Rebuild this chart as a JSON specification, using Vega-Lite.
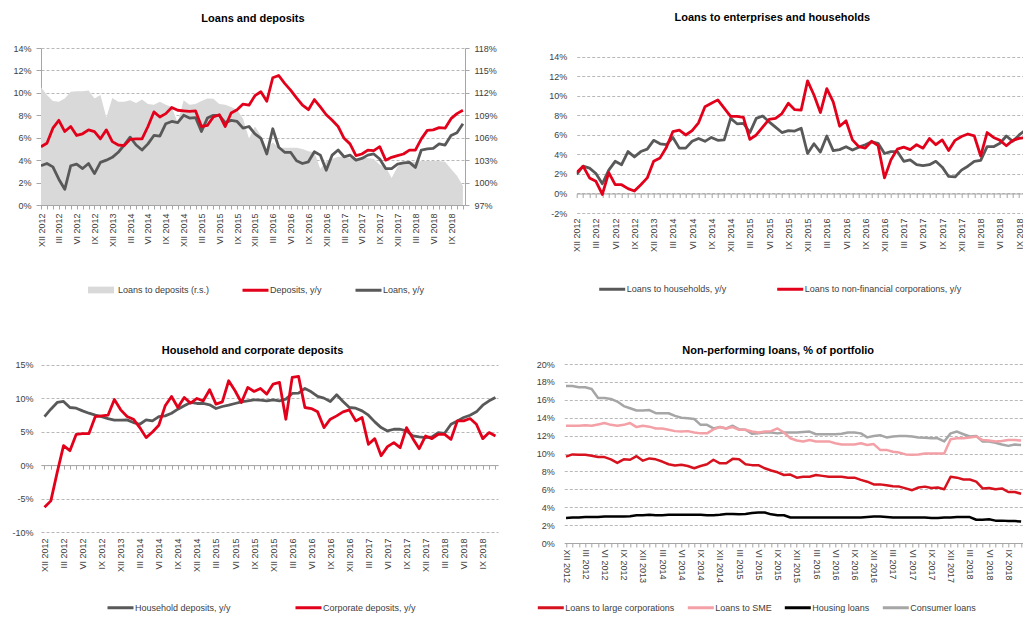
{
"$schema": "https://vega.github.io/schema/vega-lite/v6.json",
"padding": {"left": 11, "top": 12, "right": 0, "bottom": 0},
"params": [{"name": "lbl", "value": ["XII 2012","III 2012","VI 2012","IX 2012","XII 2013","III 2014","VI 2014","IX 2014","XII 2014","III 2015","VI 2015","IX 2015","XII 2015","III 2016","VI 2016","IX 2016","XII 2016","III 2017","VI 2017","IX 2017","XII 2017","III 2018","VI 2018","IX 2018"]}],
"config": {
  "font": "Liberation Sans",
  "view": {"stroke": null},
  "axis": {"labelFont": "Liberation Sans", "labelFontSize": 9, "labelColor": "#404040", "domainColor": "#A6A6A6", "tickColor": "#A6A6A6", "gridColor": "#A6A6A6", "gridDash": [3, 2], "gridWidth": 0.8},
  "legend": {"labelFont": "Liberation Sans", "labelFontSize": 9, "labelColor": "#404040", "symbolType": "stroke", "symbolSize": 676, "symbolStrokeWidth": 3, "labelOffset": 0, "padding": 0, "direction": "horizontal", "orient": "none"},
  "title": {"font": "Liberation Sans", "fontSize": 11, "fontWeight": "bold", "color": "#000000", "anchor": "middle", "frame": "group"}
},
"datasets": {
"p1": [
{"i":0,"r":112.75,"d":5.2,"l":3.5},{"i":1,"r":111.7,"d":5.5,"l":3.7},{"i":2,"r":110.9,"d":6.85,"l":3.4},{"i":3,"r":110.8,"d":7.55,"l":2.3},{"i":4,"r":111.25,"d":6.55,"l":1.4},{"i":5,"r":112.15,"d":7.0,"l":3.5},{"i":6,"r":112.2,"d":6.2,"l":3.65},{"i":7,"r":112.2,"d":6.35,"l":3.25},{"i":8,"r":112.3,"d":6.7,"l":3.7},{"i":9,"r":111.25,"d":6.55,"l":2.8},
{"i":10,"r":111.7,"d":5.9,"l":3.8},{"i":11,"r":108.7,"d":6.7,"l":4.0},{"i":12,"r":111.3,"d":5.65,"l":4.25},{"i":13,"r":110.8,"d":5.35,"l":4.7},{"i":14,"r":110.8,"d":5.3,"l":5.35},{"i":15,"r":111.0,"d":5.85,"l":6.05},{"i":16,"r":110.65,"d":5.9,"l":5.35},{"i":17,"r":111.1,"d":5.9,"l":4.9},{"i":18,"r":110.5,"d":7.0,"l":5.45},{"i":19,"r":110.4,"d":8.3,"l":6.2},
{"i":20,"r":110.8,"d":7.85,"l":6.15},{"i":21,"r":110.4,"d":8.15,"l":7.25},{"i":22,"r":110.1,"d":8.7,"l":7.45},{"i":23,"r":108.0,"d":8.45,"l":7.35},{"i":24,"r":111.0,"d":8.4,"l":8.0},{"i":25,"r":110.4,"d":8.35,"l":7.75},{"i":26,"r":110.5,"d":8.4,"l":7.8},{"i":27,"r":110.9,"d":7.0,"l":6.55},{"i":28,"r":111.25,"d":7.1,"l":7.75},{"i":29,"r":111.2,"d":7.85,"l":8.0},
{"i":30,"r":110.5,"d":8.05,"l":8.0},{"i":31,"r":110.4,"d":7.0,"l":7.35},{"i":32,"r":110.1,"d":8.2,"l":7.55},{"i":33,"r":109.7,"d":8.5,"l":7.45},{"i":34,"r":108.55,"d":9.0,"l":6.85},{"i":35,"r":105.9,"d":8.9,"l":7.0},{"i":36,"r":107.5,"d":9.75,"l":6.35},{"i":37,"r":106.3,"d":10.1,"l":5.95},{"i":38,"r":104.5,"d":9.25,"l":4.55},{"i":39,"r":105.4,"d":11.35,"l":6.8},
{"i":40,"r":104.65,"d":11.55,"l":5.15},{"i":41,"r":104.65,"d":10.85,"l":4.7},{"i":42,"r":104.65,"d":10.25,"l":4.7},{"i":43,"r":104.65,"d":9.55,"l":3.95},{"i":44,"r":104.5,"d":8.9,"l":3.7},{"i":45,"r":104.2,"d":8.5,"l":3.85},{"i":46,"r":104.05,"d":9.4,"l":4.75},{"i":47,"r":101.8,"d":8.75,"l":4.45},{"i":48,"r":102.9,"d":8.05,"l":3.1},{"i":49,"r":103.15,"d":7.55,"l":4.45},
{"i":50,"r":103.45,"d":7.0,"l":4.9},{"i":51,"r":103.45,"d":5.95,"l":4.3},{"i":52,"r":103.3,"d":5.45,"l":4.45},{"i":53,"r":103.15,"d":4.4,"l":4.0},{"i":54,"r":103.3,"d":4.55,"l":4.15},{"i":55,"r":103.3,"d":4.9,"l":4.45},{"i":56,"r":103.15,"d":4.85,"l":4.55},{"i":57,"r":102.4,"d":5.2,"l":4.1},{"i":58,"r":102.1,"d":4.0,"l":3.25},{"i":59,"r":100.6,"d":4.25,"l":3.25},
{"i":60,"r":102.1,"d":4.4,"l":3.65},{"i":61,"r":102.7,"d":4.55,"l":3.75},{"i":62,"r":102.8,"d":4.9,"l":3.8},{"i":63,"r":102.8,"d":4.9,"l":3.35},{"i":64,"r":102.9,"d":5.9,"l":4.9},{"i":65,"r":102.9,"d":6.65,"l":5.0},{"i":66,"r":102.9,"d":6.7,"l":5.05},{"i":67,"r":102.9,"d":6.9,"l":5.45},{"i":68,"r":102.8,"d":6.85,"l":5.35},{"i":69,"r":101.8,"d":7.7,"l":6.2},
{"i":70,"r":100.9,"d":8.15,"l":6.45},{"i":71,"r":99.55,"d":8.45,"l":7.25}
],
"p2": [
{"i":0,"h":1.95,"c":2.15},{"i":1,"h":2.8,"c":2.8},{"i":2,"h":2.6,"c":1.6},{"i":3,"h":2.05,"c":1.25},{"i":4,"h":1.0,"c":-0.1},{"i":5,"h":2.4,"c":2.15},{"i":6,"h":3.3,"c":0.9},{"i":7,"h":2.95,"c":0.9},{"i":8,"h":4.3,"c":0.5},{"i":9,"h":3.75,"c":0.25},
{"i":10,"h":4.3,"c":0.9},{"i":11,"h":4.55,"c":1.6},{"i":12,"h":5.45,"c":3.3},{"i":13,"h":5.1,"c":3.65},{"i":14,"h":5.0,"c":4.75},{"i":15,"h":5.75,"c":6.35},{"i":16,"h":4.65,"c":6.5},{"i":17,"h":4.65,"c":6.0},{"i":18,"h":5.35,"c":6.45},{"i":19,"h":5.65,"c":7.25},
{"i":20,"h":5.35,"c":8.9},{"i":21,"h":5.75,"c":9.25},{"i":22,"h":5.45,"c":9.6},{"i":23,"h":5.5,"c":8.75},{"i":24,"h":7.7,"c":7.9},{"i":25,"h":7.15,"c":7.9},{"i":26,"h":7.2,"c":7.8},{"i":27,"h":6.25,"c":5.55},{"i":28,"h":7.7,"c":6.0},{"i":29,"h":7.95,"c":6.8},
{"i":30,"h":7.35,"c":7.6},{"i":31,"h":6.8,"c":7.7},{"i":32,"h":6.25,"c":8.2},{"i":33,"h":6.45,"c":9.25},{"i":34,"h":6.4,"c":8.6},{"i":35,"h":6.7,"c":8.55},{"i":36,"h":4.1,"c":11.55},{"i":37,"h":5.1,"c":10.1},{"i":38,"h":4.25,"c":8.3},{"i":39,"h":5.9,"c":10.75},
{"i":40,"h":4.4,"c":9.4},{"i":41,"h":4.5,"c":6.9},{"i":42,"h":4.8,"c":7.45},{"i":43,"h":4.45,"c":5.5},{"i":44,"h":4.75,"c":4.8},{"i":45,"h":5.0,"c":4.65},{"i":46,"h":5.3,"c":5.35},{"i":47,"h":5.15,"c":4.9},{"i":48,"h":4.1,"c":1.6},{"i":49,"h":4.3,"c":3.45},
{"i":50,"h":4.3,"c":4.55},{"i":51,"h":3.3,"c":4.75},{"i":52,"h":3.45,"c":4.5},{"i":53,"h":2.95,"c":5.0},{"i":54,"h":2.85,"c":4.65},{"i":55,"h":2.95,"c":5.65},{"i":56,"h":3.3,"c":5.0},{"i":57,"h":2.7,"c":5.5},{"i":58,"h":1.75,"c":4.4},{"i":59,"h":1.7,"c":5.45},
{"i":60,"h":2.4,"c":5.85},{"i":61,"h":2.8,"c":6.1},{"i":62,"h":3.3,"c":5.9},{"i":63,"h":3.4,"c":3.85},{"i":64,"h":4.8,"c":6.25},{"i":65,"h":4.8,"c":5.75},{"i":66,"h":5.15,"c":5.45},{"i":67,"h":5.9,"c":4.9},{"i":68,"h":5.35,"c":5.45},{"i":69,"h":6.0,"c":5.65},
{"i":70,"h":6.5,"c":5.75},{"i":71,"h":6.8,"c":5.7}
],
"p3": [
{"i":0,"hh":7.25,"co":-6.3},{"i":1,"hh":8.35,"co":-5.35},{"i":2,"hh":9.35,"co":-1.1},{"i":3,"hh":9.5,"co":2.9},{"i":4,"hh":8.6,"co":2.15},{"i":5,"hh":8.5,"co":4.6},{"i":6,"hh":8.1,"co":4.7},{"i":7,"hh":7.75,"co":4.7},{"i":8,"hh":7.45,"co":7.25},{"i":9,"hh":7.25,"co":7.35},
{"i":10,"hh":6.95,"co":7.45},{"i":11,"hh":6.7,"co":9.8},{"i":12,"hh":6.7,"co":8.25},{"i":13,"hh":6.75,"co":7.25},{"i":14,"hh":6.35,"co":6.85},{"i":15,"hh":6.1,"co":5.6},{"i":16,"hh":6.75,"co":4.1},{"i":17,"hh":6.6,"co":4.95},{"i":18,"hh":7.25,"co":5.95},{"i":19,"hh":7.35,"co":8.85},
{"i":20,"hh":7.75,"co":10.25},{"i":21,"hh":8.35,"co":8.6},{"i":22,"hh":8.85,"co":10.1},{"i":23,"hh":9.35,"co":9.25},{"i":24,"hh":9.2,"co":9.95},{"i":25,"hh":9.2,"co":9.6},{"i":26,"hh":9.0,"co":11.25},{"i":27,"hh":8.45,"co":9.1},{"i":28,"hh":8.75,"co":9.45},{"i":29,"hh":8.95,"co":12.6},
{"i":30,"hh":9.2,"co":11.1},{"i":31,"hh":9.45,"co":9.35},{"i":32,"hh":9.6,"co":11.6},{"i":33,"hh":9.75,"co":11.0},{"i":34,"hh":9.7,"co":11.45},{"i":35,"hh":9.6,"co":10.6},{"i":36,"hh":9.75,"co":12.1},{"i":37,"hh":9.6,"co":12.35},{"i":38,"hh":9.85,"co":6.85},{"i":39,"hh":10.7,"co":13.1},
{"i":40,"hh":10.75,"co":13.25},{"i":41,"hh":11.45,"co":8.6},{"i":42,"hh":10.95,"co":8.45},{"i":43,"hh":10.25,"co":7.95},{"i":44,"hh":10.0,"co":5.6},{"i":45,"hh":9.5,"co":6.85},{"i":46,"hh":10.5,"co":7.35},{"i":47,"hh":9.5,"co":7.95},{"i":48,"hh":8.6,"co":8.25},{"i":49,"hh":8.5,"co":6.6},
{"i":50,"hh":8.1,"co":7.1},{"i":51,"hh":7.45,"co":3.1},{"i":52,"hh":6.45,"co":3.95},{"i":53,"hh":5.6,"co":1.4},{"i":54,"hh":5.1,"co":2.75},{"i":55,"hh":5.35,"co":3.35},{"i":56,"hh":5.35,"co":2.6},{"i":57,"hh":5.1,"co":5.6},{"i":58,"hh":4.35,"co":3.95},{"i":59,"hh":4.2,"co":2.45},
{"i":60,"hh":4.1,"co":4.35},{"i":61,"hh":4.2,"co":3.95},{"i":62,"hh":4.85,"co":4.6},{"i":63,"hh":4.75,"co":4.6},{"i":64,"hh":6.1,"co":3.85},{"i":65,"hh":6.6,"co":6.6},{"i":66,"hh":7.1,"co":6.6},{"i":67,"hh":7.45,"co":6.95},{"i":68,"hh":7.95,"co":6.1},{"i":69,"hh":8.95,"co":3.95},
{"i":70,"hh":9.6,"co":4.85},{"i":71,"hh":10.1,"co":4.35}
],
"p4": [
{"i":0,"lg":9.65,"sme":13.1,"hs":2.8,"cs":17.55},{"i":1,"lg":9.9,"sme":13.1,"hs":2.85,"cs":17.55},{"i":2,"lg":9.85,"sme":13.1,"hs":2.85,"cs":17.4},{"i":3,"lg":9.85,"sme":13.15,"hs":2.9,"cs":17.4},{"i":4,"lg":9.75,"sme":13.1,"hs":2.9,"cs":17.2},{"i":5,"lg":9.6,"sme":13.25,"hs":2.9,"cs":16.2},{"i":6,"lg":9.6,"sme":13.4,"hs":2.95,"cs":16.2},{"i":7,"lg":9.35,"sme":13.2,"hs":2.95,"cs":16.1},{"i":8,"lg":8.95,"sme":13.1,"hs":2.95,"cs":15.8},{"i":9,"lg":9.35,"sme":13.2,"hs":2.95,"cs":15.3},
{"i":10,"lg":9.3,"sme":13.4,"hs":3.0,"cs":15.05},{"i":11,"lg":9.7,"sme":12.95,"hs":3.1,"cs":14.8},{"i":12,"lg":9.2,"sme":13.1,"hs":3.1,"cs":14.8},{"i":13,"lg":9.45,"sme":13.0,"hs":3.15,"cs":14.85},{"i":14,"lg":9.35,"sme":12.8,"hs":3.1,"cs":14.5},{"i":15,"lg":9.1,"sme":12.8,"hs":3.1,"cs":14.5},{"i":16,"lg":8.8,"sme":12.65,"hs":3.15,"cs":14.5},{"i":17,"lg":8.65,"sme":12.5,"hs":3.15,"cs":14.2},{"i":18,"lg":8.75,"sme":12.45,"hs":3.15,"cs":14.0},{"i":19,"lg":8.6,"sme":12.5,"hs":3.15,"cs":13.95},
{"i":20,"lg":8.35,"sme":12.35,"hs":3.15,"cs":13.85},{"i":21,"lg":8.6,"sme":12.25,"hs":3.15,"cs":13.2},{"i":22,"lg":8.8,"sme":12.25,"hs":3.1,"cs":13.2},{"i":23,"lg":9.3,"sme":12.7,"hs":3.1,"cs":12.8},{"i":24,"lg":8.9,"sme":12.95,"hs":3.15,"cs":12.95},{"i":25,"lg":8.9,"sme":12.8,"hs":3.25,"cs":12.8},{"i":26,"lg":9.4,"sme":12.95,"hs":3.25,"cs":13.1},{"i":27,"lg":9.35,"sme":12.65,"hs":3.2,"cs":12.7},{"i":28,"lg":8.8,"sme":12.65,"hs":3.25,"cs":12.65},{"i":29,"lg":8.7,"sme":12.45,"hs":3.35,"cs":12.2},
{"i":30,"lg":8.7,"sme":12.35,"hs":3.4,"cs":12.25},{"i":31,"lg":8.35,"sme":12.45,"hs":3.4,"cs":12.35},{"i":32,"lg":8.1,"sme":12.5,"hs":3.2,"cs":12.35},{"i":33,"lg":7.9,"sme":12.8,"hs":3.1,"cs":12.25},{"i":34,"lg":7.6,"sme":12.35,"hs":3.1,"cs":12.35},{"i":35,"lg":7.65,"sme":11.7,"hs":2.85,"cs":12.35},{"i":36,"lg":7.3,"sme":11.45,"hs":2.85,"cs":12.35},{"i":37,"lg":7.4,"sme":11.35,"hs":2.85,"cs":12.4},{"i":38,"lg":7.4,"sme":11.5,"hs":2.85,"cs":12.45},{"i":39,"lg":7.6,"sme":11.35,"hs":2.85,"cs":12.15},
{"i":40,"lg":7.5,"sme":11.35,"hs":2.85,"cs":12.15},{"i":41,"lg":7.4,"sme":11.35,"hs":2.85,"cs":12.15},{"i":42,"lg":7.4,"sme":11.15,"hs":2.85,"cs":12.15},{"i":43,"lg":7.4,"sme":11.0,"hs":2.85,"cs":12.2},{"i":44,"lg":7.3,"sme":11.0,"hs":2.85,"cs":12.35},{"i":45,"lg":7.3,"sme":11.0,"hs":2.85,"cs":12.35},{"i":46,"lg":7.05,"sme":11.15,"hs":2.85,"cs":12.25},{"i":47,"lg":6.85,"sme":10.95,"hs":2.9,"cs":11.8},{"i":48,"lg":6.55,"sme":11.05,"hs":2.95,"cs":11.95},{"i":49,"lg":6.55,"sme":10.4,"hs":2.95,"cs":12.05},
{"i":50,"lg":6.45,"sme":10.4,"hs":2.9,"cs":11.8},{"i":51,"lg":6.35,"sme":10.2,"hs":2.85,"cs":11.9},{"i":52,"lg":6.3,"sme":10.1,"hs":2.85,"cs":11.95},{"i":53,"lg":6.1,"sme":9.9,"hs":2.85,"cs":11.95},{"i":54,"lg":5.9,"sme":9.85,"hs":2.85,"cs":11.9},{"i":55,"lg":6.2,"sme":9.9,"hs":2.85,"cs":11.8},{"i":56,"lg":6.3,"sme":10.0,"hs":2.85,"cs":11.75},{"i":57,"lg":6.15,"sme":10.0,"hs":2.8,"cs":11.7},{"i":58,"lg":6.2,"sme":10.0,"hs":2.8,"cs":11.7},{"i":59,"lg":6.0,"sme":10.0,"hs":2.85,"cs":11.35},
{"i":60,"lg":7.4,"sme":11.6,"hs":2.85,"cs":12.25},{"i":61,"lg":7.3,"sme":11.7,"hs":2.9,"cs":12.45},{"i":62,"lg":7.1,"sme":11.7,"hs":2.9,"cs":12.15},{"i":63,"lg":7.1,"sme":11.8,"hs":2.9,"cs":11.9},{"i":64,"lg":6.85,"sme":11.9,"hs":2.6,"cs":11.95},{"i":65,"lg":6.1,"sme":11.5,"hs":2.6,"cs":11.35},{"i":66,"lg":6.15,"sme":11.45,"hs":2.65,"cs":11.35},{"i":67,"lg":6.0,"sme":11.35,"hs":2.5,"cs":11.2},{"i":68,"lg":6.1,"sme":11.4,"hs":2.5,"cs":11.0},{"i":69,"lg":5.7,"sme":11.5,"hs":2.45,"cs":10.85},
{"i":70,"lg":5.7,"sme":11.5,"hs":2.45,"cs":11.0},{"i":71,"lg":5.5,"sme":11.45,"hs":2.4,"cs":10.95}
]
},
"vconcat": [
 {
  "hconcat": [
   {
    "width": 424, "height": 157,
    "title": {"text": "Loans and deposits", "offset": 20},
    "encoding": {
     "x": {"field": "i", "type": "quantitative", "scale": {"domain": [0, 71.35], "nice": false, "zero": false},
           "axis": {"title": null, "grid": false, "values": [0,1,2,3,4,5,6,7,8,9,10,11,12,13,14,15,16,17,18,19,20,21,22,23,24,25,26,27,28,29,30,31,32,33,34,35,36,37,38,39,40,41,42,43,44,45,46,47,48,49,50,51,52,53,54,55,56,57,58,59,60,61,62,63,64,65,66,67,68,69,70,71],
                    "labelExpr": "datum.value % 3 === 0 ? lbl[datum.value / 3] : ''", "labelAngle": 270, "labelFlush": false, "labelOverlap": false, "labelPadding": 4, "tickSize": 4}}
    },
    "layer": [
     {
      "data": {"name": "p1"},
      "mark": {"type": "area", "clip": true},
      "encoding": {
       "y": {"field": "r", "type": "quantitative", "scale": {"domain": [97, 118], "nice": false, "zero": false},
             "axis": {"title": null, "orient": "right", "grid": false, "values": [97,100,103,106,109,112,115,118], "labelExpr": "datum.value + '%'", "tickSize": 4, "labelPadding": 5}},
       "y2": {"datum": 97},
       "fill": {"datum": "a", "scale": {"domain": ["a"], "range": ["#D9D9D9"]},
                "legend": {"title": null, "legendX": 47, "legendY": 229, "symbolType": "M-1,-0.26H1V0.26H-1Z", "symbolStrokeWidth": 0, "labelOffset": 4,
                           "labelExpr": "'Loans to deposits (r.s.)'"}}
      }
     },
     {
      "data": {"name": "p1"},
      "transform": [{"fold": ["l", "d"], "as": ["s", "v"]}],
      "mark": {"type": "line", "strokeWidth": 2.8, "strokeJoin": "round", "clip": true},
      "encoding": {
       "y": {"field": "v", "type": "quantitative", "scale": {"domain": [0, 14], "nice": false},
             "axis": {"title": null, "orient": "left", "grid": true, "values": [0,2,4,6,8,10,12,14], "labelExpr": "datum.value + '%'", "tickSize": 5, "labelPadding": 5}},
       "color": {"field": "s", "type": "nominal",
                 "scale": {"domain": ["d", "l"], "range": ["#E2001A", "#595959"]},
                 "legend": {"title": null, "legendX": 200, "legendY": 227.5, "columnPadding": 27,
                            "labelExpr": "datum.label === 'd' ? 'Deposits, y/y' : 'Loans, y/y'"}}
      }
     }
    ],
    "resolve": {"scale": {"y": "independent"}}
   },
   {
    "width": 447.3, "height": 165,
    "title": {"text": "Loans to enterprises and households", "offset": 25, "dx": -28},
    "data": {"name": "p2"},
    "transform": [{"fold": ["h", "c"], "as": ["s", "v"]}],
    "mark": {"type": "line", "strokeWidth": 2.8, "strokeJoin": "round", "clip": true},
    "encoding": {
     "x": {"field": "i", "type": "quantitative", "scale": {"domain": [0, 69.75], "nice": false, "zero": false},
           "axis": {"title": null, "grid": false, "values": [0,1,2,3,4,5,6,7,8,9,10,11,12,13,14,15,16,17,18,19,20,21,22,23,24,25,26,27,28,29,30,31,32,33,34,35,36,37,38,39,40,41,42,43,44,45,46,47,48,49,50,51,52,53,54,55,56,57,58,59,60,61,62,63,64,65,66,67,68,69],
                    "labelExpr": "datum.value % 3 === 0 ? lbl[datum.value / 3] : ''", "labelAngle": 270, "labelFlush": false, "labelOverlap": false, "offset": -19.5, "labelPadding": 20.5, "tickSize": 4}},
     "y": {"field": "v", "type": "quantitative", "scale": {"domain": [-2, 14.92], "nice": false, "zero": false},
           "axis": {"title": null, "grid": true, "domain": false, "ticks": false, "values": [-2,0,2,4,6,8,10,12,14], "labelExpr": "datum.value + '%'", "labelPadding": 10}},
     "color": {"field": "s", "type": "nominal",
               "scale": {"domain": ["h", "c"], "range": ["#595959", "#E2001A"]},
               "legend": {"title": null, "legendX": 21, "legendY": 226.5, "columnPadding": 44,
                          "labelExpr": "datum.label === 'h' ? 'Loans to households, y/y' : 'Loans to non-financial corporations, y/y'"}}
    }
   }
  ],
  "spacing": 111.7,
  "bounds": "flush",
  "resolve": {"scale": {"color": "independent", "fill": "independent"}}
 },
 {
  "hconcat": [
   {
    "width": 457, "height": 168,
    "title": {"text": "Household and corporate deposits", "offset": 4.5, "dx": -17},
    "data": {"name": "p3"},
    "transform": [{"fold": ["hh", "co"], "as": ["s", "v"]}],
    "mark": {"type": "line", "strokeWidth": 2.8, "strokeJoin": "round", "clip": true},
    "encoding": {
     "x": {"field": "i", "type": "quantitative", "scale": {"domain": [-0.55, 71.4], "nice": false, "zero": false},
           "axis": {"title": null, "grid": false, "values": [0,1,2,3,4,5,6,7,8,9,10,11,12,13,14,15,16,17,18,19,20,21,22,23,24,25,26,27,28,29,30,31,32,33,34,35,36,37,38,39,40,41,42,43,44,45,46,47,48,49,50,51,52,53,54,55,56,57,58,59,60,61,62,63,64,65,66,67,68,69,70,71],
                    "labelExpr": "datum.value % 3 === 0 ? lbl[datum.value / 3] : ''", "labelAngle": 270, "labelFlush": false, "labelOverlap": false, "offset": -66.9, "labelPadding": 68.9, "tickSize": 4}},
     "y": {"field": "v", "type": "quantitative", "scale": {"domain": [-10, 15.1], "nice": false, "zero": false},
           "axis": {"title": null, "grid": true, "domain": false, "ticks": false, "values": [-10,-5,0,5,10,15], "labelExpr": "datum.value + '%'", "labelPadding": 8}},
     "color": {"field": "s", "type": "nominal",
               "scale": {"domain": ["hh", "co"], "range": ["#595959", "#E2001A"]},
               "legend": {"title": null, "legendX": 65, "legendY": 229, "columnPadding": 58,
                          "labelExpr": "datum.label === 'hh' ? 'Household deposits, y/y' : 'Corporate deposits, y/y'"}}
    }
   },
   {
    "width": 459.7, "height": 179,
    "title": {"text": "Non-performing loans, % of portfolio", "offset": 4.5, "dx": -16},
    "data": {"name": "p4"},
    "transform": [{"fold": ["cs", "sme", "hs", "lg"], "as": ["s", "v"]}],
    "mark": {"type": "line", "strokeWidth": 2.5, "strokeJoin": "round", "clip": true},
    "encoding": {
     "x": {"field": "i", "type": "quantitative", "scale": {"domain": [-0.27, 71.45], "nice": false, "zero": false},
           "axis": {"title": null, "grid": false, "values": [0,1,2,3,4,5,6,7,8,9,10,11,12,13,14,15,16,17,18,19,20,21,22,23,24,25,26,27,28,29,30,31,32,33,34,35,36,37,38,39,40,41,42,43,44,45,46,47,48,49,50,51,52,53,54,55,56,57,58,59,60,61,62,63,64,65,66,67,68,69,70,71],
                    "labelExpr": "datum.value % 3 === 0 ? lbl[datum.value / 3] : ''", "labelAngle": 90, "labelFlush": false, "labelOverlap": false, "labelPadding": 2, "tickSize": 4}},
     "y": {"field": "v", "type": "quantitative", "scale": {"domain": [0, 20], "nice": false},
           "axis": {"title": null, "grid": true, "domain": false, "ticks": false, "values": [0,2,4,6,8,10,12,14,16,18,20], "labelExpr": "datum.value + '%'", "labelPadding": 10}},
     "color": {"field": "s", "type": "nominal",
               "scale": {"domain": ["lg", "sme", "hs", "cs"], "range": ["#D7121F", "#F3A0A6", "#000000", "#A6A6A6"]},
               "legend": {"title": null, "legendX": -28, "legendY": 229, "columnPadding": 6,
                          "labelExpr": "datum.label === 'lg' ? 'Loans to large corporations' : datum.label === 'sme' ? 'Loans to SME' : datum.label === 'hs' ? 'Housing loans' : 'Consumer loans'"}}
    }
   }
  ],
  "spacing": 66.3,
  "bounds": "flush",
  "resolve": {"scale": {"color": "independent"}}
 }
],
"spacing": 47,
"resolve": {"scale": {"color": "independent", "fill": "independent"}}
}
